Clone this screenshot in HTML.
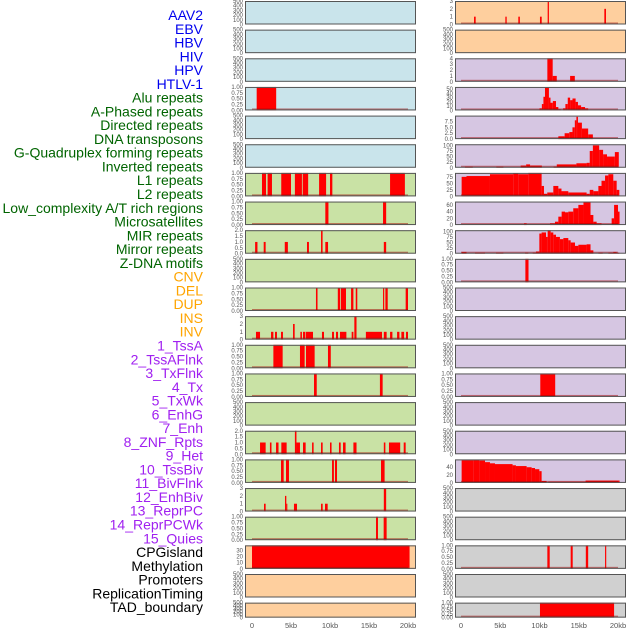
<!DOCTYPE html>
<html><head><meta charset="utf-8">
<style>
html,body{margin:0;padding:0;background:#fff;}
svg{display:block;font-family:"Liberation Sans",sans-serif;}
</style></head>
<body>
<svg id="chart" width="630" height="630" viewBox="0 0 630 630" xmlns="http://www.w3.org/2000/svg"></svg>
<script>
// ---- track labels ----
const trackLabels=["AAV2","EBV","HBV","HIV","HPV","HTLV-1","Alu repeats","A-Phased repeats","Directed repeats","DNA transposons","G-Quadruplex forming repeats","Inverted repeats","L1 repeats","L2 repeats","Low_complexity A/T rich regions","Microsatellites","MIR repeats","Mirror repeats","Z-DNA motifs","CNV","DEL","DUP","INS","INV","1_TssA","2_TssAFlnk","3_TxFlnk","4_Tx","5_TxWk","6_EnhG","7_Enh","8_ZNF_Rpts","9_Het","10_TssBiv","11_BivFlnk","12_EnhBiv","13_ReprPC","14_ReprPCWk","15_Quies","CPGisland","Methylation","Promoters","ReplicationTiming","TAD_boundary"];
const labelColors=[].concat(Array(6).fill("#0000ee"),Array(13).fill("#006400"),Array(5).fill("#ffa500"),Array(15).fill("#a020f0"),Array(5).fill("#000000"));
const xTickLabels=["0","5kb","10kb","15kb","20kb"];
const xTickValues=[0,5,10,15,20];

// ---- tick sets ----
const ticks500=["0","100","200","300","400","500"], vals500=[0,100,200,300,400,500];
const ticks1=["0.00","0.25","0.50","0.75","1.00"], vals1=[0,0.25,0.5,0.75,1];
const ticks2=["0.0","0.5","1.0","1.5","2.0"], vals2=[0,0.5,1,1.5,2];
const ticks3=["0","1","2","3"], vals3=[0,1,2,3];
const ticks4=["0","1","2","3","4"], vals4=[0,1,2,3,4];
const ticks50=["0","10","20","30","40","50"], vals50=[0,10,20,30,40,50];
const ticks75=["0.0","2.5","5.0","7.5"], vals75=[0,2.5,5,7.5];
const ticks100=["0","25","50","75","100"], vals100=[0,25,50,75,100];
const ticks75b=["0","25","50","75"], vals75b=[0,25,50,75];
const ticks60=["0","20","40","60"], vals60=[0,20,40,60];
const ticks40=["0","20","40"], vals40=[0,20,40];
const ticks30=["0","10","20","30"], vals30=[0,10,20,30];

// ---- data: [startKb, endKb, value] ----
const L3=[[0.6,3.1,1]];
const L6=[[1.28,1.8,1],[2.0,2.56,1],[3.75,5.0,1],[5.5,6.4,1],[6.5,7.2,1],[8.6,9.5,1],[10.0,10.3,1],[17.7,19.6,1]];
const L7=[[9.4,9.8,1],[16.8,17.2,1]];
const L8=[[0.4,0.7,1],[1.5,1.75,1],[4.2,4.6,1],[7.05,7.3,1],[8.85,9.05,2],[9.4,9.75,1],[16.9,17.2,1]];
const L10=[[8.2,8.4,1],[11.0,11.3,1],[11.4,12.05,1],[12.7,13.0,1],[13.3,13.5,1],[16.8,16.95,1],[17.1,17.4,1],[19.7,20.0,1]];
const L11=[[0.51,1.03,1],[2.44,2.74,1],[2.95,3.2,1],[3.72,3.97,1],[5.26,5.47,2],[6.2,6.4,1],[6.54,6.84,1],[6.92,7.82,1],[8.97,9.23,1],[10.26,10.51,1],[10.77,11.03,1],[11.28,12.1,1],[12.78,13.0,1],[13.12,13.4,3],[14.6,16.67,1],[16.9,17.26,1],[17.7,18.0,1],[18.6,18.9,1],[19.15,19.5,1],[19.74,20.0,1]];
const L12=[[2.74,3.93,1],[6.15,6.75,1],[6.92,8.03,1],[9.74,10.1,1]];
const L13=[[7.95,8.3,1],[16.4,16.75,1]];
const L15=[[1.03,1.75,1],[2.3,2.5,1],[3.08,3.4,1],[3.76,4.44,1],[5.5,5.7,2],[5.7,6.15,1],[6.54,6.88,1],[7.7,7.9,1],[8.85,9.06,1],[10.0,10.2,1],[11.15,11.37,1],[11.67,12.0,1],[13.0,13.4,1],[16.9,17.1,1],[17.56,19.0,1],[19.45,19.7,1]];
const L16=[[3.72,4.06,1],[4.36,4.74,1],[10.26,10.5,1],[10.64,10.9,1],[16.54,17.0,1]];
const L17=[[1.54,1.75,1],[4.23,4.4,2],[4.4,4.5,1],[5.38,5.77,1],[8.85,9.06,1],[9.36,9.7,1],[16.9,17.2,3]];
const L18=[[15.9,16.15,1],[16.88,17.26,1]];
const L19=[[0,20.2,38]];
const R0=[[1.66,1.87,1],[5.65,5.82,1],[7.3,7.5,1],[10.06,10.28,1],[11.04,11.2,3],[18.26,18.47,2]];
const R2=[[11.0,11.68,4],[11.68,12.2,1],[13.9,14.5,1]];
const R3=[[10.0,10.3,5],[10.3,10.5,15],[10.5,10.7,32],[10.7,11.2,53],[11.2,11.4,30],[11.4,11.7,18],[11.7,12.1,22],[12.1,12.4,8],[12.4,12.7,3],[13.0,13.3,5],[13.3,13.6,15],[13.6,13.9,30],[13.9,14.2,24],[14.2,14.6,28],[14.6,14.9,20],[14.9,15.3,12],[15.3,15.8,8],[15.8,16.2,5]];
const R4=[[12.4,13.2,1.2],[13.2,13.8,2.5],[13.8,14.2,3],[14.2,14.5,5],[14.5,14.7,8],[14.7,14.9,9.5],[14.9,15.4,7],[15.4,16.2,4.5],[16.2,16.8,2]];
const R5=[[0.5,1.5,5],[4.5,5.4,5],[7.6,8.3,10],[8.3,8.8,15],[8.8,10.3,10],[11.8,12.2,5],[12.2,14.7,15],[14.7,16.0,20],[16.0,16.4,22],[16.4,16.8,75],[16.8,17.6,100],[17.6,18.1,80],[18.1,18.6,60],[18.6,19.6,50],[19.6,20.1,70]];
const R6=[[0.08,0.7,75],[0.7,3.69,78],[3.69,6.65,85],[6.65,7.3,88],[7.3,8.57,85],[8.57,10.27,90],[10.27,10.57,40],[10.57,10.99,10],[10.99,11.76,15],[11.76,12.4,40],[12.4,12.8,30],[12.8,13.67,20],[13.67,16.0,15],[16.0,16.4,10],[16.4,16.86,25],[16.86,17.5,20],[17.5,17.9,40],[17.9,18.35,60],[18.35,18.77,80],[18.77,19.4,85],[19.4,19.83,60],[19.83,20.17,25]];
const R7=[[8.03,8.36,5],[11.34,11.97,5],[11.97,12.4,10],[12.4,12.82,25],[12.82,13.25,40],[13.25,13.67,38],[13.67,14.3,40],[14.3,14.95,50],[14.95,15.6,60],[15.6,16.5,68],[16.5,16.86,30],[16.86,17.28,10],[17.28,17.9,5],[19.19,19.5,20],[19.5,20.0,60],[20.0,20.2,40]];
const R8=[[0.08,0.7,8],[1.78,3.06,5],[4.46,5.4,5],[8.16,8.57,5],[9.13,9.55,5],[9.55,9.98,10],[9.98,10.27,90],[10.27,10.83,95],[10.83,11.04,75],[11.04,11.42,105],[11.42,11.76,95],[11.76,12.1,85],[12.1,12.6,75],[12.6,13.04,65],[13.04,13.67,70],[13.67,13.97,60],[13.97,14.52,50],[14.52,14.95,35],[14.95,16.0,40],[16.0,16.5,42],[16.5,16.86,15],[17.5,18.05,5],[18.77,19.4,5],[19.4,19.83,8],[19.83,20.17,5]];
const R9=[[8.2,8.6,1]];
const R13=[[10.1,12.0,1]];
const R16=[[0.08,1.57,58],[1.57,2.34,59],[2.34,3.06,57],[3.06,3.69,53],[3.69,4.33,50],[4.33,6.57,48],[6.57,7.0,45],[7.0,8.36,43],[8.36,9.0,40],[9.0,9.43,38],[9.43,9.98,35],[9.98,10.27,30],[10.27,10.9,5],[11.12,15.87,3],[15.87,20.2,6]];
const R19=[[11.0,11.3,1],[13.97,14.23,1],[15.9,16.2,1],[18.35,18.5,1]];
const R21=[[10.06,19.5,1]];

const BLUE="#c9e4eb",GREEN="#c9e2a5",ORANGE="#fecf9e",PURPLE="#d6c6e2",GRAY="#d0d0d0";
const P=[];
function add(col,row,bg,data,t,v,ymax){P.push({col,row,bg,data,t,v,ymax});}
// left column
for(let r=0;r<6;r++){ if(r===3) add(0,r,BLUE,L3,ticks1,vals1,1); else add(0,r,BLUE,null,ticks500,vals500,500); }
add(0,6,GREEN,L6,ticks1,vals1,1); add(0,7,GREEN,L7,ticks1,vals1,1); add(0,8,GREEN,L8,ticks2,vals2,2);
add(0,9,GREEN,null,ticks500,vals500,500); add(0,10,GREEN,L10,ticks1,vals1,1); add(0,11,GREEN,L11,ticks3,vals3,3);
add(0,12,GREEN,L12,ticks1,vals1,1); add(0,13,GREEN,L13,ticks1,vals1,1); add(0,14,GREEN,null,ticks500,vals500,500);
add(0,15,GREEN,L15,ticks2,vals2,2); add(0,16,GREEN,L16,ticks1,vals1,1); add(0,17,GREEN,L17,ticks3,vals3,3);
add(0,18,GREEN,L18,ticks1,vals1,1); add(0,19,ORANGE,L19,ticks30,vals30,38);
add(0,20,ORANGE,null,ticks500,vals500,500); add(0,21,ORANGE,null,ticks500,vals500,500);
// right column
add(1,0,ORANGE,R0,ticks3,vals3,3); add(1,1,ORANGE,null,ticks500,vals500,500);
add(1,2,PURPLE,R2,ticks4,vals4,4); add(1,3,PURPLE,R3,ticks50,vals50,55); add(1,4,PURPLE,R4,ticks75,vals75,10);
add(1,5,PURPLE,R5,ticks100,vals100,105); add(1,6,PURPLE,R6,ticks75b,vals75b,90); add(1,7,PURPLE,R7,ticks60,vals60,70);
add(1,8,PURPLE,R8,ticks100,vals100,105); add(1,9,PURPLE,R9,ticks1,vals1,1);
add(1,10,PURPLE,null,ticks500,vals500,500); add(1,11,PURPLE,null,ticks500,vals500,500); add(1,12,PURPLE,null,ticks500,vals500,500);
add(1,13,PURPLE,R13,ticks1,vals1,1); add(1,14,PURPLE,null,ticks500,vals500,500); add(1,15,PURPLE,null,ticks500,vals500,500);
add(1,16,PURPLE,R16,ticks40,vals40,60);
add(1,17,GRAY,null,ticks500,vals500,500); add(1,18,GRAY,null,ticks500,vals500,500);
add(1,19,GRAY,R19,ticks1,vals1,1); add(1,20,GRAY,null,ticks500,vals500,500); add(1,21,GRAY,R21,ticks1,vals1,1);

const NS="http://www.w3.org/2000/svg";
const svg=document.getElementById("chart");
function mk(tag,attrs,parent){const e=document.createElementNS(NS,tag);for(const k in attrs)e.setAttribute(k,attrs[k]);(parent||svg).appendChild(e);return e;}

// labels
trackLabels.forEach((lab,i)=>{
  const t=mk("text",{x:203,y:15+i*13.77+5,"text-anchor":"end","font-size":"14",fill:labelColors[i]});
  t.textContent=lab;
  
  
});

const colX=[245,455], colW=171;
function xScale(col,kb){return col===0?252+kb*7.8:461+kb*7.85;}
function rowTop(r){return 1+r*28.65;}
function rowH(r){return r===21?15:23.5;}

P.forEach(p=>{
  const g=mk("g",{});
  
  
  const x0=colX[p.col], y0=rowTop(p.row), h=rowH(p.row), yb=y0+h;
  const ys=v=>yb-v/p.ymax*h;
  const bg=mk("rect",{x:x0,y:y0,width:colW,height:h,fill:p.bg},g);
  
  
  if(p.data){
    p.data.forEach(d=>{
      const xa=xScale(p.col,d[0]), xb=xScale(p.col,Math.min(d[1],20.5));
      const b=mk("rect",{x:xa,y:ys(d[2]),width:Math.max(1,xb-xa),height:yb-ys(d[2]),fill:"#ff0000"},g);
      
      
    });
    const bl=mk("rect",{x:xScale(p.col,0),y:yb-2,width:xScale(p.col,20)-xScale(p.col,0),height:1.5,fill:"#a00000","fill-opacity":"0.5"},g);
    
    
  }
  const fr=mk("rect",{x:x0+0.5,y:y0+0.5,width:colW-1,height:h-1,fill:"none",stroke:"#555","stroke-width":"1"},g);
  
  
  p.v.forEach((v,i)=>{
    const t=mk("text",{x:x0-2,y:ys(v)+2,"text-anchor":"end","font-size":"6",fill:"#555"},g);
    t.textContent=p.t[i];
    
    
  });
});

// x axes
[0,1].forEach(col=>{
  xTickValues.forEach((v,i)=>{
    const t=mk("text",{x:xScale(col,v),y:628,"text-anchor":"middle","font-size":"7.5",fill:"#555"});
    t.textContent=xTickLabels[i];
    
    
  });
});
</script>
</body></html>
